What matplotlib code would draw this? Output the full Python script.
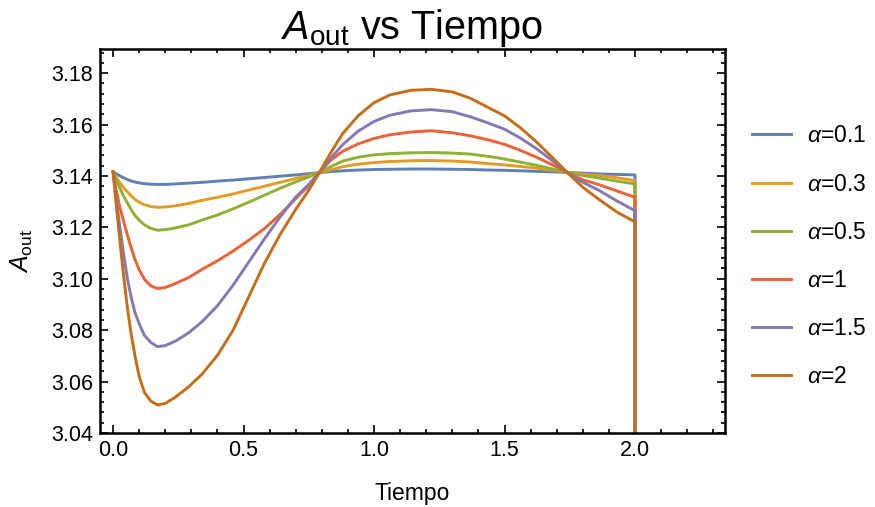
import matplotlib
matplotlib.use("Agg")
import matplotlib.pyplot as plt
from matplotlib.ticker import MultipleLocator, FormatStrFormatter

plt.rcParams['font.family'] = ['Liberation Sans', 'DejaVu Sans']
plt.rcParams['mathtext.fontset'] = 'custom'
plt.rcParams['mathtext.rm'] = 'Liberation Sans'
plt.rcParams['mathtext.it'] = 'Liberation Sans:italic'

# tiempo (last point repeated: every curve drops at t = 2)
t = [0, 0.01, 0.025, 0.04, 0.055, 0.07, 0.085, 0.1, 0.12, 0.145, 0.17, 0.2, 0.24,
     0.29, 0.34, 0.4, 0.46, 0.52, 0.58, 0.64, 0.7, 0.75, 0.79, 0.835, 0.88, 0.94,
     1.0, 1.06, 1.14, 1.22, 1.3, 1.37, 1.44, 1.5, 1.56, 1.62, 1.68, 1.74, 1.8,
     1.86, 1.93, 2.0, 2.0]

a01 = [3.1416, 3.1410, 3.1401, 3.1393, 3.1386, 3.1380, 3.1376, 3.1373, 3.1370, 3.1368,
       3.1367, 3.1367, 3.1369, 3.1372, 3.1375, 3.1380, 3.1384, 3.1389, 3.1394, 3.1399,
       3.1404, 3.1409, 3.1413, 3.1417, 3.1420, 3.1423, 3.1425, 3.1426, 3.1427, 3.1427,
       3.1426, 3.1425, 3.1423, 3.1422, 3.1420, 3.1418, 3.1416, 3.1414, 3.1411, 3.1408,
       3.1406, 3.1404, 3.0]
a03 = [3.1416, 3.1398, 3.1375, 3.1355, 3.1338, 3.1322, 3.1308, 3.1298, 3.1288, 3.1281,
       3.1278, 3.1279, 3.1284, 3.1293, 3.1305, 3.1317, 3.1330, 3.1345, 3.1360, 3.1375,
       3.1390, 3.1402, 3.1413, 3.1424, 3.1436, 3.1446, 3.1452, 3.1456, 3.1459, 3.1460,
       3.1458, 3.1454, 3.1448, 3.1443, 3.1437, 3.1431, 3.1423, 3.1414, 3.1407, 3.1402,
       3.1393, 3.1382, 3.0]
a05 = [3.1416, 3.1390, 3.1355, 3.1322, 3.1295, 3.1268, 3.1245, 3.1228, 3.1210, 3.1196,
       3.1189, 3.1191, 3.1198, 3.1210, 3.1228, 3.1248, 3.1272, 3.1298, 3.1325, 3.1352,
       3.1377, 3.1396, 3.1413, 3.1437, 3.1458, 3.1473, 3.1482, 3.1487, 3.1490, 3.1491,
       3.1489, 3.1485, 3.1476, 3.1466, 3.1454, 3.1442, 3.1428, 3.1414, 3.1402, 3.1392,
       3.1380, 3.1369, 3.0]
a1 = [3.1416, 3.1355, 3.1282, 3.1225, 3.1170, 3.1118, 3.1072, 3.1035, 3.0998, 3.0972,
      3.0962, 3.0966, 3.0982, 3.1005, 3.1036, 3.1070, 3.1108, 3.1150, 3.1195, 3.1250,
      3.1312, 3.1362, 3.1413, 3.1462, 3.1496, 3.1525, 3.1546, 3.1560, 3.1571, 3.1576,
      3.1568, 3.1556, 3.1540, 3.1523, 3.1500, 3.1474, 3.1445, 3.1414, 3.1385, 3.1367,
      3.1342, 3.1317, 3.0]
a15 = [3.1416, 3.1330, 3.1210, 3.1100, 3.1000, 3.0925, 3.0865, 3.0825, 3.0780, 3.0752,
       3.0736, 3.0740, 3.0758, 3.0790, 3.0832, 3.0895, 3.0975, 3.1065, 3.1155, 3.1240,
       3.1318, 3.1367, 3.1413, 3.1470, 3.1522, 3.1575, 3.1612, 3.1636, 3.1653, 3.1658,
       3.1650, 3.1630, 3.1605, 3.1582, 3.1548, 3.1508, 3.1462, 3.1414, 3.1375, 3.1345,
       3.1303, 3.1265, 3.0]
a2 = [3.1416, 3.1310, 3.1160, 3.1015, 3.0885, 3.0780, 3.0695, 3.0620, 3.0558, 3.0524,
      3.0509, 3.0515, 3.0540, 3.0580, 3.0628, 3.0702, 3.0800, 3.0930, 3.1060, 3.1172,
      3.1270, 3.1345, 3.1412, 3.1492, 3.1565, 3.1635, 3.1685, 3.1715, 3.1733, 3.1737,
      3.1727, 3.1702, 3.1665, 3.1634, 3.1588, 3.1535, 3.1475, 3.1414, 3.1356, 3.1310,
      3.1260, 3.1221, 3.0]

series = [a01, a03, a05, a1, a15, a2]
labels = [r'$\alpha$=0.1', r'$\alpha$=0.3', r'$\alpha$=0.5', r'$\alpha$=1', r'$\alpha$=1.5', r'$\alpha$=2']
colors = ['#5E81B5', '#E19C24', '#8FB032', '#EB6235', '#8778B3', '#C56E1A']

fig = plt.figure(figsize=(8.75, 5.07), dpi=100)
ax = fig.add_axes([0.1143, 0.146, 0.7143, 0.7574])

for y, lab, c in zip(series, labels, colors):
    ax.plot(t, y, color=c, lw=2.1, label=lab, solid_joinstyle='round')

ax.set_xlim(-0.05, 2.345)
ax.set_ylim(3.04, 3.1894)
ax.xaxis.set_minor_locator(MultipleLocator(0.1))
ax.yaxis.set_major_locator(MultipleLocator(0.02))
ax.yaxis.set_minor_locator(MultipleLocator(0.004))
ax.xaxis.set_major_formatter(FormatStrFormatter('%.1f'))
ax.yaxis.set_major_formatter(FormatStrFormatter('%.2f'))
ax.set_xticks([0, 0.5, 1.0, 1.5, 2.0])
ax.tick_params(which='both', direction='in', top=True, right=True, width=1.2)
ax.tick_params(which='major', length=6, labelsize=15.5, pad=5)
ax.tick_params(which='minor', length=3)
for s in ax.spines.values():
    s.set_linewidth(1.8)

ax.set_title(r'$A_{\rm out}$ vs Tiempo', fontsize=28.5, pad=6)
ax.set_xlabel('Tiempo', fontsize=16.5, labelpad=15)
ax.set_ylabel(r'$A_{\rm out}$', fontsize=18)
ax.yaxis.set_label_coords(-0.104, 0.475)

ax.legend(loc='center left', bbox_to_anchor=(1.01, 0.46), frameon=False,
          fontsize=16.5, handlelength=1.7, labelspacing=1.1, handletextpad=0.7)

fig.savefig('out.png', dpi=100)
